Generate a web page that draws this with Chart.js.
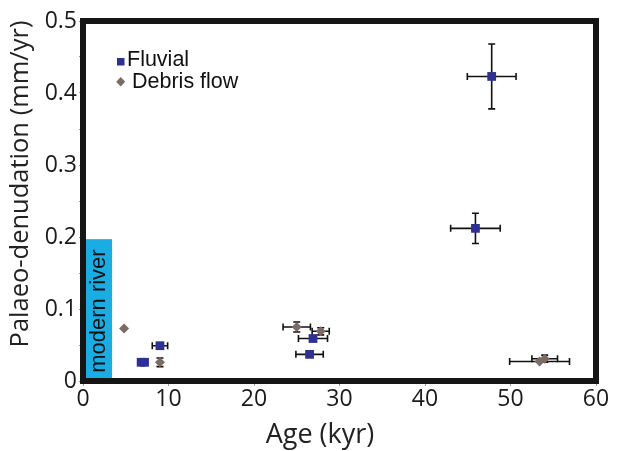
<!DOCTYPE html>
<html>
<head>
<meta charset="utf-8">
<script src="https://cdn.jsdelivr.net/npm/chart.js@4/dist/chart.umd.min.js"></script>
<style>
  html, body { margin: 0; padding: 0; background: #fff; }
  #wrap { width: 618px; height: 451px; }
</style>
</head>
<body>
<div id="wrap"><canvas id="c" width="618" height="451"></canvas></div>
<script>
// fluvial samples (age kyr, rate mm/yr, errors)
var fluvialAge     = [47.8, 45.9, 26.9, 26.5, 9.0, 6.8, 7.2];
var fluvialAgeErr  = [2.85, 2.9, 1.7, 1.6, 0.9, 0, 0];
var fluvialRate    = [0.423, 0.212, 0.059, 0.037, 0.049, 0.026, 0.026];
var fluvialRateErr = [0.045, 0.021, 0, 0, 0, 0, 0];

// debris flow samples
var debrisAge     = [4.8, 9.0, 25.0, 27.8, 53.4, 54.0];
var debrisAgeErr  = [0, 0, 1.6, 1.0, 3.5, 1.5];
var debrisRate    = [0.073, 0.026, 0.075, 0.069, 0.027, 0.031];
var debrisRateErr = [0, 0.006, 0.007, 0.005, 0, 0.005];

// modern river range box
var modernAge  = [0, 3.4];
var modernRate = [0, 0.197];

var xTitle = 'Age (kyr)';
var yTitle = 'Palaeo-denudation (mm/yr)';

var blue = '#2e3192';
var brown = '#7d6b65';

function pts(xs, ys, xe, ye) {
  return xs.map(function(x, i){ return {x: x, y: ys[i], xe: xe[i], ye: ye[i]}; });
}

var extras = {
  id: 'extras',
  beforeDatasetsDraw: function(chart) {
    var ctx = chart.ctx, sx = chart.scales.x, sy = chart.scales.y;
    // modern river box
    var x0 = sx.getPixelForValue(modernAge[0]), x1 = sx.getPixelForValue(modernAge[1]);
    var y0 = sy.getPixelForValue(modernRate[0]), y1 = sy.getPixelForValue(modernRate[1]);
    ctx.save();
    ctx.fillStyle = '#1aade4';
    ctx.fillRect(x0, y1, x1 - x0, y0 - y1);
    ctx.translate((x0 + x1) / 2 + 1.5, (y0 + y1) / 2 + 1);
    ctx.rotate(-Math.PI / 2);
    ctx.fillStyle = '#111';
    ctx.font = '22px "Liberation Sans", Arial, sans-serif';
    ctx.textAlign = 'center';
    ctx.textBaseline = 'middle';
    ctx.fillText('modern river', 0, 0);
    ctx.restore();

    // error bars
    ctx.save();
    ctx.strokeStyle = '#111';
    ctx.lineWidth = 1.6;
    chart.data.datasets.forEach(function(ds) {
      ds.data.forEach(function(p) {
        var px = sx.getPixelForValue(p.x), py = sy.getPixelForValue(p.y);
        ctx.beginPath();
        if (p.xe) {
          var a = sx.getPixelForValue(p.x - p.xe), b = sx.getPixelForValue(p.x + p.xe);
          ctx.moveTo(a, py); ctx.lineTo(b, py);
          ctx.moveTo(a, py - 3.5); ctx.lineTo(a, py + 3.5);
          ctx.moveTo(b, py - 3.5); ctx.lineTo(b, py + 3.5);
        }
        if (p.ye) {
          var c = sy.getPixelForValue(p.y + p.ye), d = sy.getPixelForValue(p.y - p.ye);
          ctx.moveTo(px, c); ctx.lineTo(px, d);
          ctx.moveTo(px - 3.5, c); ctx.lineTo(px + 3.5, c);
          ctx.moveTo(px - 3.5, d); ctx.lineTo(px + 3.5, d);
        }
        ctx.stroke();
      });
    });
    ctx.restore();
  },
  afterDatasetsDraw: function(chart) {
    var ctx = chart.ctx, a = chart.chartArea;
    ctx.save();
    ctx.strokeStyle = '#151515';
    ctx.lineWidth = 6;
    ctx.strokeRect(a.left, a.top, a.right - a.left, a.bottom - a.top);

    // legend
    ctx.fillStyle = blue;
    ctx.fillRect(117, 58, 7.5, 7.5);
    ctx.fillStyle = brown;
    ctx.beginPath();
    ctx.moveTo(120.7, 77); ctx.lineTo(125.2, 81.7); ctx.lineTo(120.7, 86.4); ctx.lineTo(116.2, 81.7);
    ctx.closePath(); ctx.fill();
    ctx.fillStyle = '#111';
    ctx.font = '21.5px "Liberation Sans", Arial, sans-serif';
    ctx.textBaseline = 'alphabetic';
    ctx.fillText('Fluvial', 127, 66);
    ctx.fillText('Debris flow', 132, 88);

    // axis titles
    ctx.fillStyle = '#222';
    ctx.textAlign = 'center';
    ctx.font = '27px "Open Sans"';
    ctx.fillText(xTitle, 320, 443);
    ctx.translate(28, 184);
    ctx.rotate(-Math.PI / 2);
    ctx.font = '25.5px "Open Sans"';
    ctx.fillText(yTitle, 0, 0);
    ctx.restore();
  }
};

new Chart(document.getElementById('c'), {
  type: 'scatter',
  data: {
    datasets: [
      {
        label: 'Debris flow',
        data: pts(debrisAge, debrisRate, debrisAgeErr, debrisRateErr),
        pointStyle: 'rectRot', radius: 5, backgroundColor: brown, borderWidth: 0
      },
      {
        label: 'Fluvial',
        data: pts(fluvialAge, fluvialRate, fluvialAgeErr, fluvialRateErr),
        pointStyle: 'rect', radius: 6.2, backgroundColor: blue, borderWidth: 0
      }
    ]
  },
  options: {
    responsive: false,
    animation: false,
    layout: { padding: { top: 21, right: 22, left: 0, bottom: 0 } },
    plugins: { legend: { display: false }, tooltip: { enabled: false } },
    scales: {
      x: {
        min: 0, max: 60,
        afterFit: function(s){ s.height = 70; },
        ticks: { stepSize: 10, color: '#1a1a1a', padding: 0, font: { family: '"Open Sans"', size: 23 } },
        grid: { drawOnChartArea: false, tickLength: 5, color: '#999' },
        border: { display: false }
      },
      y: {
        min: 0, max: 0.5,
        afterFit: function(s){ s.width = 83; },
        ticks: {
          stepSize: 0.05, color: '#1a1a1a', padding: 2, font: { family: '"Open Sans"', size: 23 },
          callback: function(v){ var r = Math.round(v * 100); return r % 10 === 0 ? String(r / 100) : ''; }
        },
        grid: { drawOnChartArea: false, tickLength: 4, color: '#999' },
        border: { display: false }
      }
    }
  },
  plugins: [extras]
});
</script>
</body>
</html>
